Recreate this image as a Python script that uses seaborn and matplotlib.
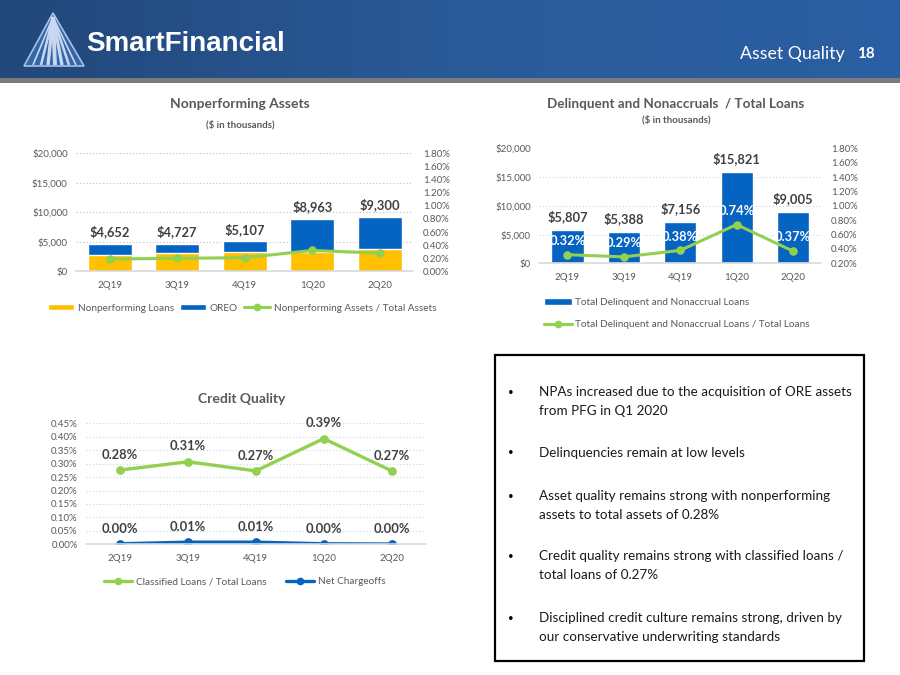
import numpy as np
import matplotlib
matplotlib.use("Agg")
import matplotlib.pyplot as plt
import seaborn as sns
from matplotlib.lines import Line2D
from matplotlib.patches import Patch, Rectangle, Polygon
from matplotlib.colors import LinearSegmentedColormap
from matplotlib.ticker import FuncFormatter, MultipleLocator

quarters = ["2Q19", "3Q19", "4Q19", "1Q20", "2Q20"]

# Nonperforming assets ($ in thousands)
npa_total = [4652, 4727, 5107, 8963, 9300]
npl = [2790, 3180, 3350, 3300, 3800]          # yellow part, OREO = total - npl
npa_ratio = [0.19, 0.20, 0.21, 0.32, 0.28]     # % of total assets

# Delinquent and nonaccruals
delinq = [5807, 5388, 7156, 15821, 9005]
delinq_ratio = [0.32, 0.29, 0.38, 0.74, 0.37]

# Credit quality (%)
classified_ratio = [0.276, 0.307, 0.273, 0.393, 0.273]
net_chargeoffs = [0.002, 0.008, 0.008, 0.002, 0.001]

bullets = [
    "NPAs increased due to the acquisition of ORE assets\nfrom PFG in Q1 2020",
    "Delinquencies remain at low levels",
    "Asset quality remains strong with nonperforming\nassets to total assets of 0.28%",
    "Credit quality remains strong with classified loans /\ntotal loans of 0.27%",
    "Disciplined credit culture remains strong, driven by\nour conservative underwriting standards",
]
bullet_y = [392, 453, 496, 556, 618]

YELLOW = "#FFC000"
BLUE = "#0563C1"
GREEN = "#92D050"
DARK = "#404040"
GRAY = "#595959"

sns.set_theme(style="white")
plt.rcParams["font.family"] = ["Lato", "DejaVu Sans"]

fig = plt.figure(figsize=(9, 6.75), dpi=100)

# background layer in pixel coordinates
bg = fig.add_axes([0, 0, 1, 1], zorder=-10)
bg.set_xlim(0, 900)
bg.set_ylim(675, 0)
bg.axis("off")

cmap = LinearSegmentedColormap.from_list("hdr", ["#22477a", "#2a5a98", "#2b5fa3"])
bg.imshow(np.linspace(0, 1, 256).reshape(1, -1), extent=(0, 900, 78, 0),
          aspect="auto", cmap=cmap)
bg.add_patch(Rectangle((0, 78), 900, 5, color="#7b7b7b", lw=0))

# logo
bg.add_patch(Polygon([(53, 13), (24, 66), (84, 66)], closed=True,
                     facecolor="#3566a6", edgecolor="#a9c2e6", lw=1.2))
for bx, w in zip([33, 41, 48, 55, 62, 69, 76], [1.2, 1.8, 2.4, 2.8, 2.4, 1.8, 1.2]):
    bg.plot([53, bx], [17, 65], color="#c8d8f0", lw=w, solid_capstyle="butt")
bg.text(86, 44, "SmartFinancial", color="white", fontsize=20, fontweight="bold",
        family=["Liberation Sans", "DejaVu Sans"], va="center", ha="left")
bg.text(845, 54, "Asset Quality", color="white", fontsize=12.8, ha="right", va="center")
bg.text(875, 54, "18", color="white", fontsize=11, fontweight="bold", ha="right", va="center")

# chart titles
bg.text(240, 104, "Nonperforming Assets", color=GRAY, fontsize=10, fontweight="bold",
        ha="center", va="center")
bg.text(240, 125, "($ in thousands)", color=GRAY, fontsize=7, fontweight="bold",
        ha="center", va="center")
bg.text(676, 104, "Delinquent and Nonaccruals  / Total Loans", color=GRAY, fontsize=9.7,
        fontweight="bold", ha="center", va="center")
bg.text(676, 120, "($ in thousands)", color=GRAY, fontsize=7, fontweight="bold",
        ha="center", va="center")
bg.text(242, 399, "Credit Quality", color=GRAY, fontsize=10, fontweight="bold",
        ha="center", va="center")

# text box
bg.add_patch(Rectangle((495, 355), 369, 306, fill=False, edgecolor="black", lw=1.6))
for txt, y in zip(bullets, bullet_y):
    bg.text(508, y, "•", fontsize=7, color="black", ha="left", va="center")
    for k, line in enumerate(txt.split("\n")):
        bg.text(539, y + 19 * k, line, fontsize=9.7, color="#1a1a1a", ha="left", va="center")


def style_axes(ax, gridcolor):
    for s in ["top", "right", "left"]:
        ax.spines[s].set_visible(False)
    ax.spines["bottom"].set_color("#d9d9d9")
    ax.spines["bottom"].set_linewidth(1.2)
    ax.yaxis.grid(True, linestyle=(0, (1, 2)), color=gridcolor, linewidth=0.8)
    ax.xaxis.grid(False)
    ax.set_axisbelow(True)
    ax.tick_params(axis="both", length=0, labelsize=7, labelcolor=GRAY)
    ax.tick_params(axis="y", pad=6)
    ax.tick_params(axis="x", pad=7)
    ax.set_xlabel("")
    ax.set_ylabel("")
    ax.set_facecolor("none")


def style_right(ax):
    for s in ["top", "right", "left", "bottom"]:
        ax.spines[s].set_visible(False)
    ax.grid(False)
    ax.tick_params(axis="y", length=0, labelsize=7, labelcolor=GRAY, pad=7)
    ax.set_ylabel("")


dollar = FuncFormatter(lambda v, p: f"${v:,.0f}")
pct2 = FuncFormatter(lambda v, p: f"{v:.2f}%")

# ---- Chart 1: Nonperforming Assets
ax1 = fig.add_axes([0.0844, 0.5978, 0.375, 0.1751])
sns.barplot(x=quarters, y=npa_total, color=BLUE, width=0.65, saturation=1, ax=ax1)
sns.barplot(x=quarters, y=npl, color=YELLOW, width=0.65, saturation=1, ax=ax1)
ax1.set_ylim(0, 20000)
ax1.yaxis.set_major_locator(MultipleLocator(5000))
ax1.yaxis.set_major_formatter(dollar)
style_axes(ax1, "#bfbfbf")
for i, v in enumerate(npa_total):
    ax1.annotate(f"${v:,}", (i, v), xytext=(0, 4), textcoords="offset points",
                 ha="center", va="bottom", fontsize=9.3, fontweight="bold", color=DARK)
ax1r = ax1.twinx()
sns.pointplot(x=quarters, y=npa_ratio, color=GREEN, markersize=4.5, linewidth=2.2, ax=ax1r)
ax1r.set_ylim(0, 1.8)
ax1r.yaxis.set_major_locator(MultipleLocator(0.2))
ax1r.yaxis.set_major_formatter(pct2)
style_right(ax1r)
ax1.set_xlim(-0.5, 4.5)

fig.legend([Patch(facecolor=YELLOW), Patch(facecolor=BLUE),
            Line2D([], [], color=GREEN, lw=2.2, marker="o", markersize=4.5)],
           ["Nonperforming Loans", "OREO", "Nonperforming Assets / Total Assets"],
           loc="center", bbox_to_anchor=(0.269, 0.5437), ncol=3, frameon=False,
           fontsize=7.2, handlelength=2.6, handleheight=0.6, handletextpad=0.4,
           columnspacing=0.6, labelcolor=GRAY)

# ---- Chart 2: Delinquent and Nonaccruals
ax2 = fig.add_axes([0.5992, 0.6099, 0.3132, 0.1701])
sns.barplot(x=quarters, y=delinq, color=BLUE, width=0.57, saturation=1, ax=ax2)
ax2.set_ylim(0, 20000)
ax2.yaxis.set_major_locator(MultipleLocator(5000))
ax2.yaxis.set_major_formatter(dollar)
style_axes(ax2, "#bdd7ee")
ax2.yaxis.grid(False)
for g in [5000, 10000, 15000]:
    ax2.axhline(g, linestyle=(0, (1, 2)), color="#bdd7ee", lw=0.8, zorder=0)
for i, v in enumerate(delinq):
    ax2.annotate(f"${v:,}", (i, v), xytext=(0, 5), textcoords="offset points",
                 ha="center", va="bottom", fontsize=9.3, fontweight="bold", color=DARK)
ax2r = ax2.twinx()
sns.pointplot(x=quarters, y=delinq_ratio, color=GREEN, markersize=4.5, linewidth=2.2, ax=ax2r)
ax2r.set_ylim(0.2, 1.8)
ax2r.yaxis.set_major_locator(MultipleLocator(0.2))
ax2r.yaxis.set_major_formatter(pct2)
style_right(ax2r)
for i, v in enumerate(delinq_ratio):
    ax2r.annotate(f"{v:.2f}%", (i, v), xytext=(0, 10), textcoords="offset points",
                  ha="center", va="center", fontsize=9.3, fontweight="bold", color="white")
ax2.set_xlim(-0.5, 4.5)

fig.legend([Patch(facecolor=BLUE),
            Line2D([], [], color=GREEN, lw=2.2, marker="o", markersize=4.5)],
           ["Total Delinquent and Nonaccrual Loans",
            "Total Delinquent and Nonaccrual Loans / Total Loans"],
           loc="upper left", bbox_to_anchor=(0.594, 0.572), ncol=1, frameon=False,
           fontsize=7.2, handlelength=2.8, handleheight=0.6, handletextpad=0.3,
           labelspacing=1.3, labelcolor=GRAY)

# ---- Chart 3: Credit Quality
ax3 = fig.add_axes([0.0956, 0.1936, 0.3773, 0.1793])
sns.pointplot(x=quarters, y=classified_ratio, color=GREEN, markersize=4.5, linewidth=2.4, ax=ax3)
sns.pointplot(x=quarters, y=net_chargeoffs, color=BLUE, markersize=4.5, linewidth=2.4, ax=ax3)
ax3.set_ylim(0, 0.45)
ax3.yaxis.set_major_locator(MultipleLocator(0.05))
ax3.yaxis.set_major_formatter(pct2)
style_axes(ax3, "#bdd7ee")
ax3.set_xlim(-0.5, 4.5)
for series in [classified_ratio, net_chargeoffs]:
    for i, v in enumerate(series):
        ax3.annotate(f"{v:.2f}%", (i, v), xytext=(0, 11), textcoords="offset points",
                     ha="center", va="center", fontsize=9.3, fontweight="bold", color=DARK)

fig.legend([Line2D([], [], color=GREEN, lw=2.4, marker="o", markersize=4.5),
            Line2D([], [], color=BLUE, lw=2.4, marker="o", markersize=4.5)],
           ["Classified Loans / Total Loans", "Net Chargeoffs"],
           loc="center", bbox_to_anchor=(0.272, 0.1378), ncol=2, frameon=False,
           fontsize=7.2, handlelength=2.8, handletextpad=0.4, columnspacing=2.0,
           labelcolor=GRAY)

fig.savefig("out.png", dpi=100)
